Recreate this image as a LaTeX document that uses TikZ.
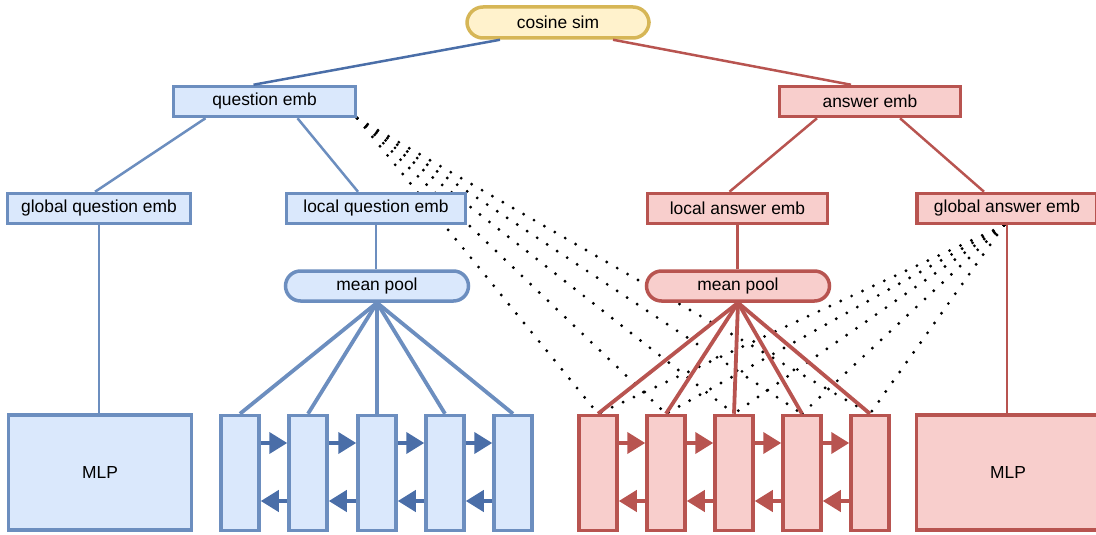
\documentclass[tikz,border=0pt]{standalone}
\usepackage{fontspec}
\setmainfont{Liberation Sans}
\usetikzlibrary{arrows.meta,calc,backgrounds}
\definecolor{bfill}{HTML}{DAE8FC}
\definecolor{bline}{HTML}{6C8EBF}
\definecolor{bdark}{HTML}{4A6EA8}
\definecolor{rfill}{HTML}{F8CECC}
\definecolor{rline}{HTML}{B85450}
\definecolor{yfill}{HTML}{FFF2CC}
\definecolor{yline}{HTML}{D6B656}
\tikzset{
  base/.style={inner sep=0pt, line width=3.5pt, font=\fontsize{17.4}{20}\selectfont, text=black},
  bbox/.style={base, draw=bline, fill=bfill, minimum height=30pt},
  rbox/.style={base, draw=rline, fill=rfill, minimum height=30pt},
  bpill/.style={bbox, rounded corners=15pt},
  rpill/.style={rbox, rounded corners=15pt},
  ypill/.style={base, draw=yline, fill=yfill, rounded corners=16pt, minimum height=31pt, minimum width=182pt},
  bcell/.style={base, draw=bline, fill=bfill, minimum width=38pt, minimum height=115pt},
  rcell/.style={base, draw=rline, fill=rfill, minimum width=38pt, minimum height=115pt},
  bmlp/.style={base, draw=bline, fill=bfill, minimum width=183pt, minimum height=115pt},
  rmlp/.style={base, draw=rline, fill=rfill, minimum width=183pt, minimum height=115pt},
  bcon/.style={draw=bline, line width=2.5pt},
  rcon/.style={draw=rline, line width=2.5pt},
  bfan/.style={draw=bline, line width=3.8pt},
  rfan/.style={draw=rline, line width=3.8pt},
  barr/.style={draw=bdark, line width=4pt, -{Triangle[length=18pt,width=21pt]}},
  rarr/.style={draw=rline, line width=4pt, -{Triangle[length=18pt,width=21pt]}},
  attn/.style={draw=black, line width=3.2pt, line cap=round, dash pattern=on 0pt off 12pt},
}
\begin{document}
\begin{tikzpicture}[x=1pt,y=-1pt]
\useasboundingbox (0,0) rectangle (1096,535);
% nodes
\node[ypill] (cos) at (558,22.5) {cosine sim};
\node[bbox, minimum width=182pt] (qe) at (264.5,101.5) {question emb};
\node[rbox, minimum width=181pt] (ae) at (870,101.5) {answer emb};
\node[bbox, minimum width=183pt] (gq) at (99,208.5) {global question emb};
\node[bbox, minimum width=179pt] (lq) at (376,208.5) {local question emb};
\node[rbox, minimum width=180pt] (la) at (737.5,208.5) {local answer emb};
\node[rbox, minimum width=180pt] (ga) at (1007,208.5) {global answer emb};
\node[bpill, minimum width=183pt] (mpq) at (377,286) {mean pool};
\node[rpill, minimum width=183pt] (mpa) at (738,286) {mean pool};
\node[bmlp] (mlpq) at (100,472.5) {MLP};
\node[rmlp] (mlpa) at (1008,472.5) {MLP};
\foreach \i/\x in {1/240,2/308,3/377,4/445,5/513}
  \node[bcell] (q\i) at (\x,473) {};
\foreach \i/\x in {1/598,2/666,3/734,4/802,5/870}
  \node[rcell] (a\i) at (\x,473) {};
% dotted attention lines, behind the boxes
\begin{scope}[on background layer]
\foreach \i in {1,...,5} {
  \draw[attn] (qe.south east) -- (a\i.north);
  \draw[attn] ([xshift=-3pt]ga.south) -- (a\i.north);
}
\end{scope}
% tree connectors
\draw[draw=bdark, line width=2.5pt] ([xshift=-58pt]cos.south) -- ([xshift=-11pt]qe.north);
\draw[rcon] ([xshift=55pt]cos.south) -- ([xshift=-19pt]ae.north);
\draw[bcon] ([xshift=-59pt]qe.south) -- ([xshift=-4pt]gq.north);
\draw[bcon] ([xshift=33pt]qe.south) -- ([xshift=-18pt]lq.north);
\draw[rcon] ([xshift=-53pt]ae.south) -- ([xshift=-8pt]la.north);
\draw[rcon] ([xshift=30pt]ae.south) -- ([xshift=-23pt]ga.north);
\draw[bcon] (gq.south) -- (gq.south |- mlpq.north);
\draw[bcon] (lq.south) -- (lq.south |- mpq.north);
\draw[rcon] (la.south) -- (la.south |- mpa.north);
\draw[rcon] (ga.south) -- (ga.south |- mlpa.north);
% fans
\foreach \i in {1,...,5} {
  \draw[bfan] (mpq.south) -- (q\i.north);
  \draw[rfan] (mpa.south) -- (a\i.north);
}
% recurrent arrows
\foreach \i/\j in {1/2,2/3,3/4,4/5} {
  \draw[barr] ([yshift=30pt]q\i.east) -- ([yshift=30pt]q\j.west);
  \draw[barr] ([yshift=-28pt]q\j.west) -- ([yshift=-28pt]q\i.east);
  \draw[rarr] ([yshift=30pt]a\i.east) -- ([yshift=30pt]a\j.west);
  \draw[rarr] ([yshift=-28pt]a\j.west) -- ([yshift=-28pt]a\i.east);
}
\end{tikzpicture}
\end{document}
